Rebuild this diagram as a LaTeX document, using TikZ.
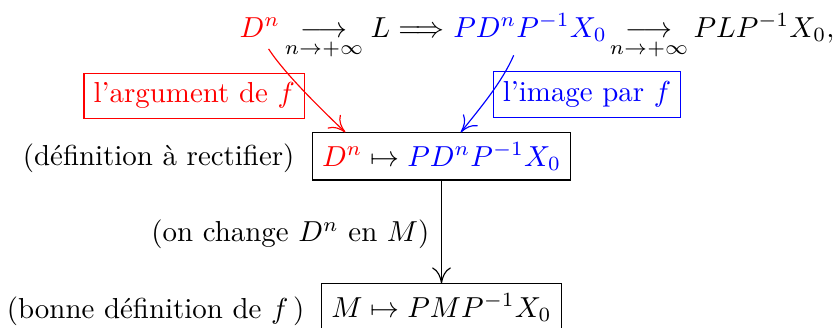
\documentclass[tikz,border=0pt]{standalone}
\usepackage{amsmath}
\usetikzlibrary{calc,arrows.meta}
\begin{document}
\begin{tikzpicture}[x=0.346pt,y=-0.346pt,
  freetext/.style={inner sep=0pt},
  boxed/.style={draw, inner sep=0.3333em},
  bigto/.style={-{Computer Modern Rightarrow[length=5.5pt,width=6.5pt]}}]
\useasboundingbox (0,0) rectangle (833,327);
% top line
\node[freetext, anchor=base west, text=red] (Dn) at (239,37.3) {$D^n$};
\node[freetext, anchor=base] (lim1) at (324,37.3) {$\underset{n\to+\infty}{\longrightarrow}$};
\node[freetext, anchor=base west] (L) at (370,37.3) {$L \Longrightarrow$};
\node[freetext, anchor=base west, text=blue] (PDP) at (452.7,37.3) {$PD^nP^{-1}X_0$};
\node[freetext, anchor=base] (lim2) at (649,37.3) {$\underset{n\to+\infty}{\longrightarrow}$};
\node[freetext, anchor=base west] (PLP) at (693,37.3) {$PLP^{-1}X_0,$};
% coloured boxes
\node[boxed, draw=red, text=red] (arg) at (194.2,95.8) {l'argument de $f$};
\node[boxed, draw=blue, text=blue] (img) at (587,94.5) {l'image par $f$};
% main boxes
\node[boxed, anchor=north] (main) at (441.5,132.3) {$\color{red}D^n\color{black} \mapsto {\color{blue}PD^nP^{-1}X_0}$};
\node[boxed, anchor=north] (good) at (441.5,283.3) {$M \mapsto PMP^{-1}X_0$};
% side labels
\node[freetext, anchor=base east] (defr) at (295,165) {(définition à rectifier)};
\node[freetext, anchor=base east] (chg) at (430,241.7) {(on change $D^n$ en $M$)};
\node[freetext, anchor=base east] (bonne) at (305,318.3) {(bonne définition de $f$\,)};
% connectors
\draw[bigto] (main) -- (good);
\draw[red,bigto] ($(Dn.south east)+(-12,11)$) .. controls +(16,25) and +(-21.6,-20.7) .. ($(main.north west)+(33.5,0)$);
\draw[blue,bigto] ($(PDP.base west)+(61,18)$) .. controls +(-12,27.6) and +(18.6,-23.4) .. ($(main.north west)+(149,0)$);
\end{tikzpicture}
\end{document}
